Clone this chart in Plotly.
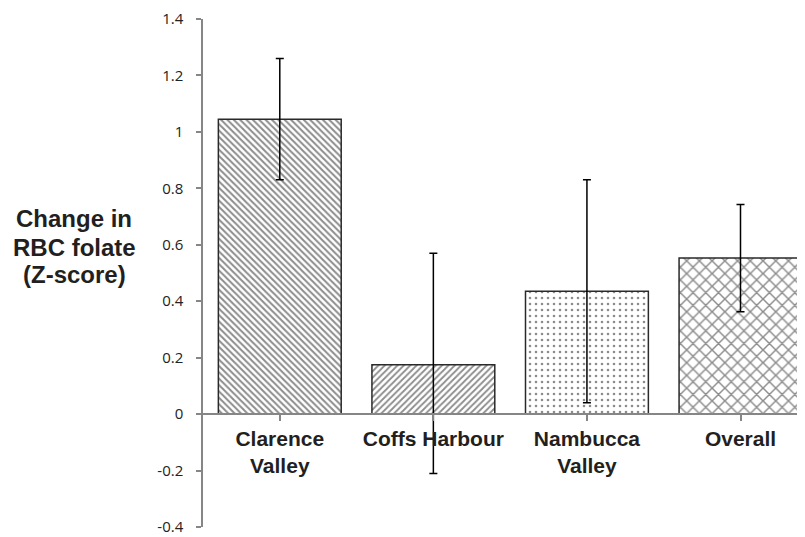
import plotly.graph_objects as go

categories = ["Clarence<br>Valley", "Coffs Harbour", "Nambucca<br>Valley", "Overall"]
values = [1.045, 0.175, 0.435, 0.553]
err_plus = [0.215, 0.395, 0.395, 0.19]
err_minus = [0.215, 0.385, 0.395, 0.19]
patterns = ["\\", "/", ".", "x"]
pattern_sizes = [4.5, 4.5, 6, 9]
pattern_solidity = [0.45, 0.4, 0.15, 0.3]
y_ticks = [-0.4, -0.2, 0, 0.2, 0.4, 0.6, 0.8, 1, 1.2, 1.4]
y_tick_labels = ["-0.4", "-0.2", "0", "0.2", "0.4", "0.6", "0.8", "1", "1.2", "1.4"]
y_title_lines = ["Change in", "RBC folate", "(Z-score)"]

y_min, y_max = -0.4, 1.4
# the page body has an 8px margin, so the figure is sized to fit inside the window
W, H = 797, 529
L, R, T, B = 195, 0, 11, 10
PW, PH = W - L - R, H - T - B

fig = go.Figure()
fig.add_trace(go.Bar(
    x=list(range(len(categories))),
    y=values,
    width=0.8,
    marker=dict(
        color="white",
        line=dict(color="#2a2a2a", width=1.5),
        pattern=dict(shape=patterns, fgcolor="#1a1a1a", bgcolor="white",
                     size=pattern_sizes, solidity=pattern_solidity, fillmode="overlay"),
    ),
    error_y=dict(type="data", symmetric=False, array=err_plus, arrayminus=err_minus,
                 color="black", thickness=1.5, width=4),
    showlegend=False,
))

gray = "#868686"
# y-title lines, centred at x=74px, middles at these page-y pixels
title_centers_px = [219, 247, 274]
annotations = []
for line, cy in zip(y_title_lines, title_centers_px):
    annotations.append(dict(
        text="<b>" + line + "</b>",
        xref="paper", yref="paper",
        x=(74 - 8 - L) / PW, y=1 - (cy - 8 - T) / PH,
        xanchor="center", yanchor="middle",
        showarrow=False, align="center",
        font=dict(family="Liberation Sans, Arial, sans-serif", size=24, color="#231f20"),
    ))

fig.update_layout(
    width=W, height=H,
    margin=dict(l=L, r=R, t=T, b=B),
    paper_bgcolor="white", plot_bgcolor="white",
    bargap=0.2,
    xaxis=dict(
        range=[-0.5, 3.42],
        tickmode="array",
        tickvals=list(range(len(categories))),
        ticktext=["<b>" + c.replace("<br>", "</b><br><b>") + "</b>" for c in categories],
        tickson="boundaries",
        ticks="outside", ticklen=6, tickcolor=gray, tickwidth=1.5,
        showline=True, linecolor=gray, linewidth=1.5,
        anchor="free", position=(0 - y_min) / (y_max - y_min),
        showgrid=False, zeroline=False, automargin=False,
        tickfont=dict(family="Liberation Sans, Arial, sans-serif", size=21, color="#231f20"),
    ),
    yaxis=dict(
        range=[y_min, y_max],
        tickmode="array", tickvals=y_ticks, ticktext=y_tick_labels,
        ticks="outside", ticklen=5, tickcolor=gray, tickwidth=1.5,
        showline=True, linecolor=gray, linewidth=1.5,
        showgrid=False, zeroline=False, automargin=False,
        ticklabelstandoff=10, ticklabeloverflow="allow",
        tickfont=dict(family="Open Sans, Liberation Sans, sans-serif", size=15, color="#222222"),
    ),
    annotations=annotations,
)

fig.write_html("out.html")
